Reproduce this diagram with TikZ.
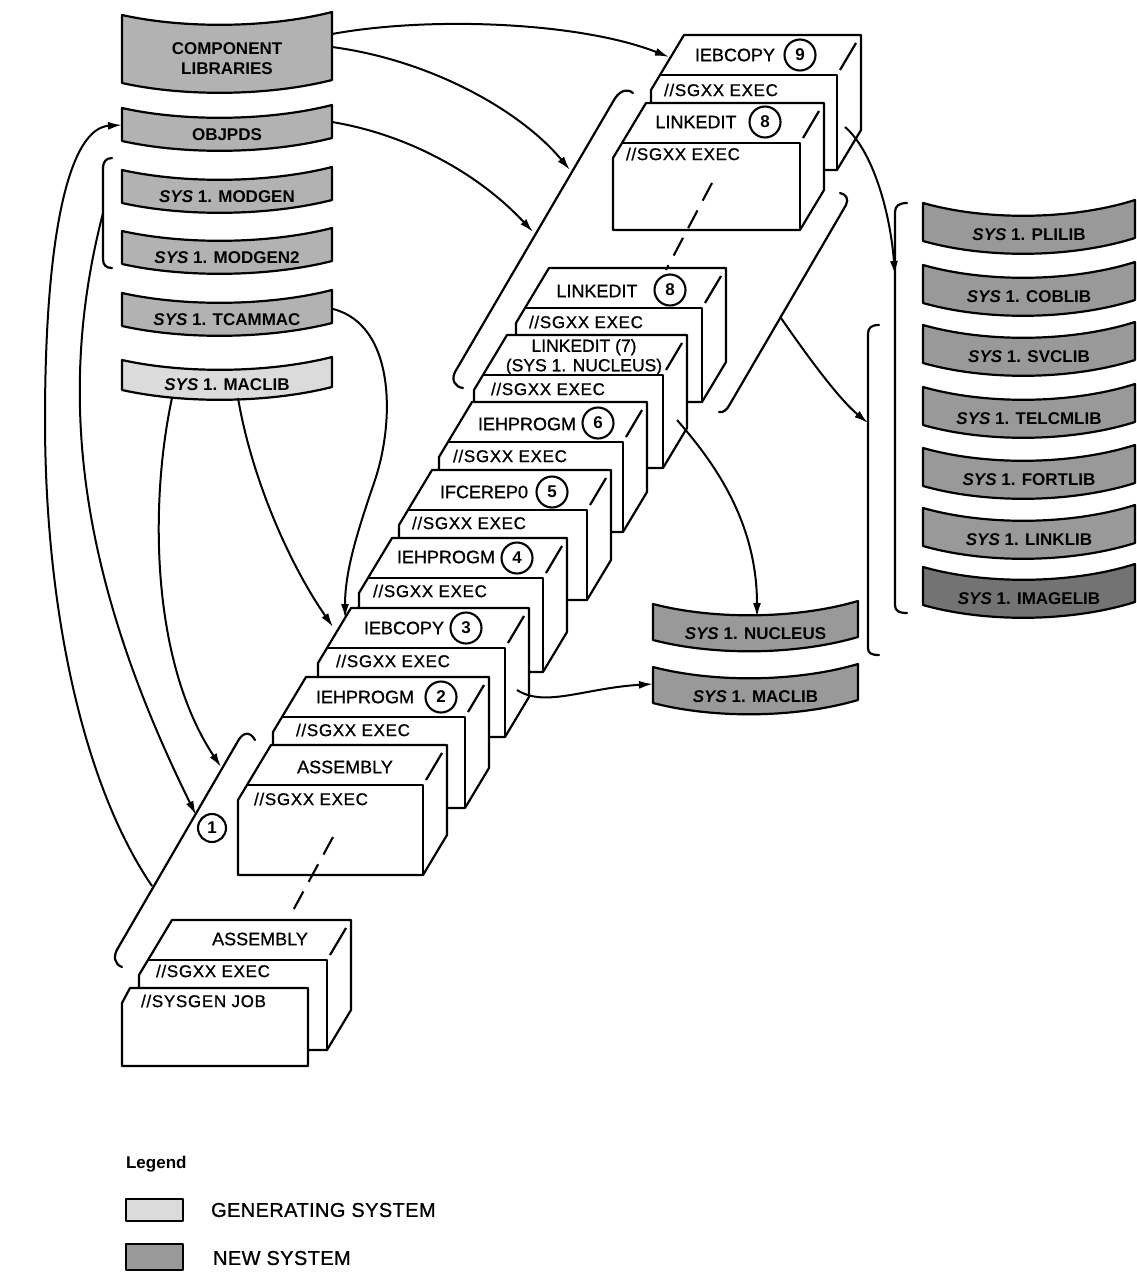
\documentclass[tikz,border=0pt]{standalone}
\usepackage{fontspec}
\setmainfont{Liberation Sans}
\newfontfamily\cardfont{Liberation Sans}[FakeBold=0.9]
\newfontfamily\execfont{Liberation Sans}[FakeBold=0.9, LetterSpace=4]
\newfontfamily\legfont{Liberation Sans}[FakeBold=0.9, LetterSpace=2]
\usetikzlibrary{arrows.meta}
\definecolor{gengray}{gray}{0.86}
\definecolor{libgray}{gray}{0.70}
\definecolor{newgray}{gray}{0.60}
\definecolor{deepgray}{gray}{0.45}
\tikzset{
  bandtext/.style={font=\fontsize{17}{20}\selectfont\bfseries, inner sep=0pt, align=center},
  cardtext/.style={font=\fontsize{18}{20}\selectfont\cardfont, inner sep=0pt, align=center},
  exectext/.style={font=\fontsize{17}{20}\selectfont\execfont, inner sep=0pt, anchor=west},
  circnum/.style={draw, circle, line width=2.1pt, minimum size=31pt, inner sep=0pt, font=\fontsize{17}{20}\selectfont\bfseries},
  flow/.style={line width=2pt, -{Latex[length=14pt,width=8pt]}},
  brace/.style={line width=2.2pt, line cap=round},
  dashline/.style={line width=2.1pt, dash pattern=on 20pt off 11pt},
  legtext/.style={font=\fontsize{20}{22}\selectfont\legfont, inner sep=0pt, anchor=west},
}
% card: name, xL, yT, xR, yB
\newcommand\stepcard[5]{%
  \draw[fill=white] (#2,#5) -- (#2,#3+15) -- (#2+9,#3) -- (#2+33,#3-40) -- (#4+24,#3-40) -- (#4+24,#5-40) -- (#4,#5) -- cycle;
  \draw (#2+9,#3) -- (#4,#3) -- (#4,#5);
  \draw (#4+3,#3-5) -- (#4+19,#3-32);
}
% band: name, x0, y0, w, h, fill, sag, text
\newcommand\libband[8]{%
  \draw[fill=#6] (#2,#3) .. controls (#2+0.3*#4,#3+#7) and (#2+0.7*#4,#3+#7-1) .. (#2+#4,#3-3)
     -- (#2+#4,#3-3+#5) .. controls (#2+0.7*#4,#3+#5+#7-1) and (#2+0.3*#4,#3+#5+#7) .. (#2,#3+#5) -- cycle;
  \node[bandtext] (#1) at (#2+0.5*#4,#3+0.5*#5+0.7*#7) {#8};
}
\begin{document}
\begin{tikzpicture}[x=1pt,y=-1pt,line width=2.2pt,line join=round]
\useasboundingbox (0,0) rectangle (1137,1277);
\fill[white] (0,0) rectangle (1137,1277);

% ---------- cards, back to front ----------
\stepcard{L}{651}{75}{837}{170}
\stepcard{K}{613}{143}{800}{230}
\stepcard{J}{516}{308}{702}{402}
\stepcard{I}{474}{375}{663}{468}
\stepcard{H}{439}{442}{623}{532}
\stepcard{G}{399}{510}{587}{600}
\stepcard{F}{359}{578}{543}{672}
\stepcard{E}{318}{648}{505}{737}
\stepcard{D}{273}{717}{465}{808}
\stepcard{C}{238}{785}{423}{875}
\stepcard{B}{139}{960}{327}{1050}
\draw[fill=white] (122,1066) -- (122,1003) -- (130,988) -- (308,988) -- (308,1066) -- cycle;

% card labels
\node[cardtext] (Llab) at (735,55) {IEBCOPY};
\node[circnum] (Lnum) at (800,55) {9};
\node[exectext] (Lexec) at (663,90) {//SGXX EXEC};
\node[cardtext] (Klab) at (696,122) {LINKEDIT};
\node[circnum] (Knum) at (765,122) {8};
\node[exectext] (Kexec) at (625,154) {//SGXX EXEC};
\node[cardtext] (Jlab) at (597,291) {LINKEDIT};
\node[circnum] (Jnum) at (670,290) {8};
\node[exectext] (Jexec) at (528,322) {//SGXX EXEC};
\node[cardtext, font=\fontsize{17.5}{19.5}\selectfont\cardfont] (Ilab) at (584,357) {LINKEDIT (7)\\(SYS 1. NUCLEUS)};
\node[exectext] (Iexec) at (490,389) {//SGXX EXEC};
\node[cardtext] (Hlab) at (527,424) {IEHPROGM};
\node[circnum] (Hnum) at (598,423) {6};
\node[exectext] (Hexec) at (452,456) {//SGXX EXEC};
\node[cardtext] (Glab) at (484,492) {IFCEREP0};
\node[circnum] (Gnum) at (552,492) {5};
\node[exectext] (Gexec) at (411,523) {//SGXX EXEC};
\node[cardtext] (Flab) at (446,557) {IEHPROGM};
\node[circnum] (Fnum) at (517,558) {4};
\node[exectext] (Fexec) at (372,591) {//SGXX EXEC};
\node[cardtext] (Elab) at (404,628) {IEBCOPY};
\node[circnum] (Enum) at (466,628) {3};
\node[exectext] (Eexec) at (335,661) {//SGXX EXEC};
\node[cardtext] (Dlab) at (365,697) {IEHPROGM};
\node[circnum] (Dnum) at (441,697) {2};
\node[exectext] (Dexec) at (295,730) {//SGXX EXEC};
\node[cardtext] (Clab) at (345,767) {ASSEMBLY};
\node[exectext] (Cexec) at (253,799) {//SGXX EXEC};
\node[cardtext] (Blab) at (260,939) {ASSEMBLY};
\node[exectext] (Bexec) at (155,971) {//SGXX EXEC};
\node[exectext] (Aexec) at (140,1001) {//SYSGEN JOB};

% omitted-steps dashes
\coordinate (dC) at (333,837); \coordinate (dB) at (290,916);
\coordinate (dK) at (712,183); \coordinate (dJ) at (666,270);
\draw[dashline] (dC) -- (dB);
\draw[dashline] (dK) -- (dJ);

% ---------- libraries ----------
\libband{complib}{122}{15}{210}{68}{libgray}{14}{COMPONENT\\LIBRARIES}
\libband{objpds}{122}{108}{210}{33}{libgray}{14}{OBJPDS}
\libband{modgen}{122}{170}{210}{33}{libgray}{14}{\textit{SYS} 1. MODGEN}
\libband{modgentwo}{122}{231}{210}{33}{libgray}{14}{\textit{SYS} 1. MODGEN2}
\libband{tcammac}{122}{293}{210}{33}{libgray}{14}{\textit{SYS} 1. TCAMMAC}
\libband{maclibg}{122}{360}{210}{30}{gengray}{14}{\textit{SYS} 1. MACLIB}

\libband{plilib}{923}{203}{212}{38}{newgray}{18}{\textit{SYS} 1. PLILIB}
\libband{coblib}{923}{265}{212}{38}{newgray}{18}{\textit{SYS} 1. COBLIB}
\libband{svclib}{923}{325}{212}{38}{newgray}{18}{\textit{SYS} 1. SVCLIB}
\libband{telcmlib}{923}{387}{212}{38}{newgray}{18}{\textit{SYS} 1. TELCMLIB}
\libband{fortlib}{923}{448}{212}{38}{newgray}{18}{\textit{SYS} 1. FORTLIB}
\libband{linklib}{923}{508}{212}{38}{newgray}{18}{\textit{SYS} 1. LINKLIB}
\libband{imagelib}{923}{567}{212}{38}{deepgray}{18}{\textit{SYS} 1. IMAGELIB}

\libband{nucleus}{653}{604}{205}{36}{newgray}{16}{\textit{SYS} 1. NUCLEUS}
\libband{maclibn}{653}{667}{205}{36}{newgray}{16}{\textit{SYS} 1. MACLIB}

% ---------- brackets ----------
\draw[brace] (122,967) .. controls (114,964) and (113,956) .. (118,948) -- (238,741) .. controls (243,732) and (250,731) .. (255,740);
\node[circnum, minimum size=28pt] (one) at (212,828) {1};
\draw[brace] (463,388) .. controls (455,387) and (451,380) .. (455,372) -- (614,100) .. controls (619,91) and (627,88) .. (633,93);
\draw[brace] (840,193) .. controls (846,194) and (849,199) .. (846,205) -- (730,404) .. controls (727,410) and (723,413) .. (719,412);
\draw[brace] (907,203) .. controls (899,203) and (895,206) .. (895,212) -- (895,605) .. controls (895,611) and (899,613) .. (907,613);
\draw[brace] (879,325) .. controls (871,325) and (868,328) .. (868,334) -- (868,648) .. controls (868,653) and (871,655) .. (879,655);
\draw[brace] (112,158) .. controls (106,158) and (103,162) .. (103,168) -- (103,259) .. controls (103,265) and (106,268) .. (112,268);

% ---------- connectors ----------
\coordinate (clibA) at (332,34);  \coordinate (Lin) at (669,57);
\coordinate (clibB) at (332,47);  \coordinate (brUa) at (570,170);
\coordinate (objO) at (332,122);  \coordinate (brUb) at (533,232);
\coordinate (tcamO) at (333,309); \coordinate (Ein) at (345,618);
\coordinate (macR) at (238,398);  \coordinate (Ein2) at (333,627);
\coordinate (macL) at (172,398);  \coordinate (brLa) at (221,767);
\coordinate (modO) at (103,213);  \coordinate (brLb) at (196,815);
\coordinate (brLo) at (152,886);  \coordinate (objI) at (122,125);
\coordinate (Lout) at (845,127);  \coordinate (brR1) at (895,275);
\coordinate (brMo) at (781,318);  \coordinate (brR2) at (868,423);
\coordinate (Iout) at (677,420);  \coordinate (nucI) at (757,617);
\coordinate (Eout) at (517,690);  \coordinate (macnI) at (653,684);

\draw[flow] (clibA) .. controls (430,16) and (580,22) .. (Lin);
\draw[flow] (clibB) .. controls (430,60) and (520,110) .. (brUa);
\draw[flow] (objO) .. controls (410,135) and (480,175) .. (brUb);
\draw[flow] (tcamO) .. controls (395,325) and (395,420) .. (375,480) .. controls (358,530) and (345,570) .. (Ein);
\draw[flow] (macR) .. controls (252,480) and (290,565) .. (Ein2);
\draw[flow] (macL) .. controls (150,500) and (150,660) .. (brLa);
\draw[flow] (modO) .. controls (60,380) and (70,560) .. (brLb);
\draw[flow] (brLo) .. controls (80,780) and (45,600) .. (45,420) .. controls (45,230) and (70,128) .. (objI);
\draw[flow] (Lout) .. controls (872,150) and (890,210) .. (brR1);
\draw[flow] (brMo) .. controls (810,360) and (840,400) .. (brR2);
\draw[flow] (Iout) .. controls (712,460) and (757,520) .. (nucI);
\draw[flow] (Eout) .. controls (545,708) and (585,688) .. (macnI);

% ---------- legend ----------
\node[font=\fontsize{17}{20}\selectfont\bfseries, inner sep=0pt, anchor=west] (leg) at (125,1164) {Legend};
\node[draw, fill=gengray, minimum width=57pt, minimum height=22pt, inner sep=0pt, anchor=north west] (legbox1) at (125,1198) {};
\node[legtext] (legtxt1) at (210,1210) {GENERATING SYSTEM};
\node[draw, fill=newgray, minimum width=57pt, minimum height=26pt, inner sep=0pt, anchor=north west] (legbox2) at (125,1243) {};
\node[legtext] (legtxt2) at (212,1258) {NEW SYSTEM};
\end{tikzpicture}
\end{document}
